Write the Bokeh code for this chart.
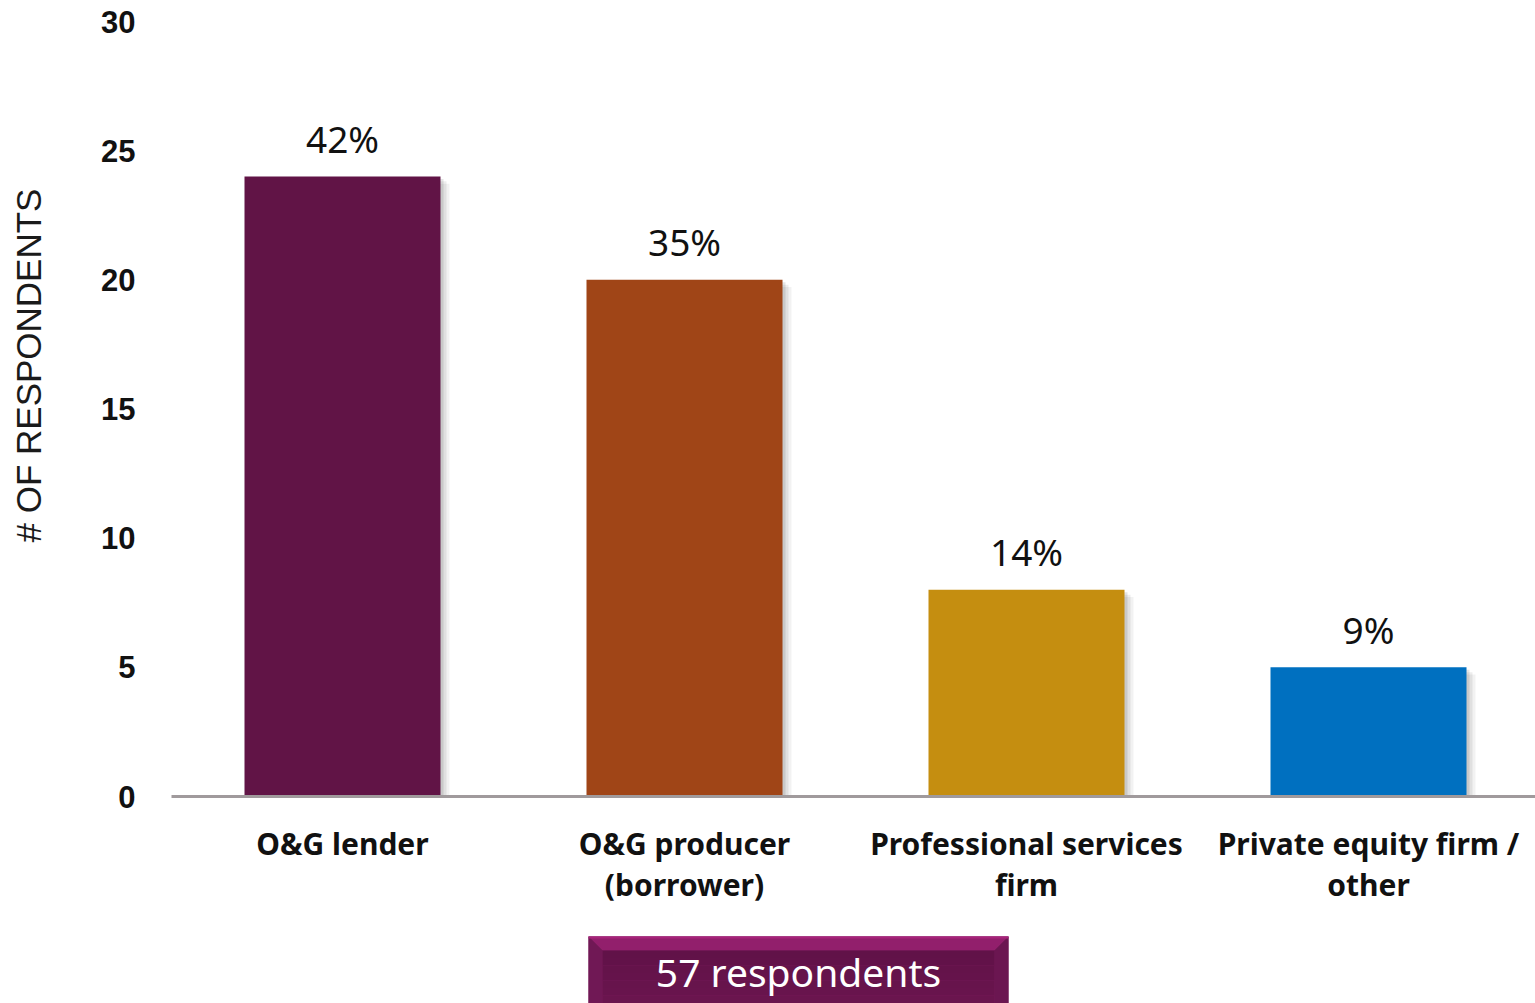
from bokeh.plotting import figure
from bokeh.models import ColumnDataSource, Range1d, FixedTicker, Title
from bokeh.layouts import column
from bokeh.core.properties import value
from bokeh.embed import file_html
from bokeh.resources import INLINE

categories = ["O&G lender", "O&G producer\n(borrower)", "Professional services\nfirm", "Private equity firm /\nother"]
counts = [24, 20, 8, 5]
pct_labels = ["42%", "35%", "14%", "9%"]
colors = ["#611446", "#A04517", "#C58E10", "#0070C0"]
y_ticks = [0, 5, 10, 15, 20, 25, 30]
y_title = "# OF RESPONDENTS"
footer = ["57 respondents"]

xs = [i + 0.5 for i in range(len(categories))]
src = ColumnDataSource(dict(x=xs, top=counts, pct=pct_labels, color=colors))

W, H1, H2 = 1535, 930, 73
PXX = 342.0           # px per category
PXY = 775.0 / 30      # px per respondent
p = figure(width=W, height=H1, output_backend="svg", toolbar_location=None,
           x_range=Range1d(0, 1364 / PXX), y_range=Range1d(0, 30),
           min_border_left=171, min_border_right=0, min_border_top=21, min_border_bottom=134)
p.outline_line_color = None
p.xgrid.grid_line_color = None
p.ygrid.grid_line_color = None

bw = 196 / PXX
# soft drop shadows
for k, a in [(9, 0.05), (6, 0.07), (3, 0.10)]:
    p.vbar(x=[x + k / PXX for x in xs], top=[c - 0.8 * k / PXY for c in counts],
           bottom=-0.5 * k / PXY, width=bw, fill_color="#000000", fill_alpha=a, line_color=None)
p.vbar(x="x", top="top", width=bw, fill_color="color", line_color=None, source=src)

p.text(x="x", y="top", text="pct", source=src, text_align="center", text_baseline="alphabetic",
       y_offset=-38, text_font=value("Noto Sans"), text_font_size="37px", text_color="#111111")

xa = p.xaxis[0]
xa.ticker = FixedTicker(ticks=xs)
xa.major_label_overrides = {x: c for x, c in zip(xs, categories)}
xa.axis_line_color = "#a09a9c"
xa.axis_line_width = 3
xa.major_tick_line_color = None
xa.minor_tick_line_color = None
xa.major_label_standoff = 20
xa.major_label_text_font = "Noto Sans"
xa.major_label_text_font_style = "bold"
xa.major_label_text_font_size = "30px"
xa.major_label_text_color = "#111111"
xa.major_label_text_line_height = 1.0

ya = p.yaxis[0]
ya.ticker = FixedTicker(ticks=y_ticks)
ya.axis_line_color = None
ya.major_tick_line_color = None
ya.minor_tick_line_color = None
ya.major_label_standoff = 30
ya.major_label_text_font = "Liberation Sans"
ya.major_label_text_font_style = "bold"
ya.major_label_text_font_size = "31px"
ya.major_label_text_color = "#111111"

# spacer between tick labels and the axis title
p.add_layout(Title(text=" ", standoff=38, text_font_size="1px"), "left")
p.add_layout(Title(text=y_title, align="left", offset=254, standoff=16, vertical_align="top",
                   text_font="Liberation Sans", text_font_style="normal",
                   text_font_size="35px", text_color="#1a1a1a"), "left")

# footer badge (its frame is aligned with the chart's frame: page x 171..1535)
p2 = figure(width=W, height=H2, output_backend="svg", toolbar_location=None,
            x_range=Range1d(171, W), y_range=Range1d(0, H2),
            min_border_left=171, min_border_right=0, min_border_top=0, min_border_bottom=0,
            x_axis_type=None, y_axis_type=None)
p2.outline_line_color = None
p2.xgrid.grid_line_color = None
p2.ygrid.grid_line_color = None

def yy(page_y):
    return 930 + H2 - page_y

L, R, T, B, bev = 588, 1008, 936, 1010, 14
p2.quad(left=L, right=R, top=yy(T), bottom=yy(B), fill_color="#7d1b5f", line_color=None)
p2.patch([L, R, R - bev, L + bev], [yy(T), yy(T), yy(T + bev), yy(T + bev)], fill_color="#921f6c", line_color=None)
p2.patch([L, L + bev, L + bev, L], [yy(T), yy(T + bev), yy(B), yy(B)], fill_color="#701855", line_color=None)
p2.patch([R, R - bev, R - bev, R], [yy(T), yy(T + bev), yy(B), yy(B)], fill_color="#6b1651", line_color=None)
steps = 8
for i in range(steps):
    y0 = T + bev + i * (B - T - bev) / steps
    y1 = T + bev + (i + 1) * (B - T - bev) / steps
    c = 0x5f + int(i * 1.5)
    p2.quad(left=L + bev, right=R - bev, top=yy(y0), bottom=yy(y1),
            fill_color="#%02x%02x%02x" % (c + 2, 0x12 + i // 2, 0x48 + i), line_color=None)
p2.line([L, R], [yy(T + 1), yy(T + 1)], line_color="#a8247b", line_width=2)
p2.text(x=[(L + R) / 2], y=[yy(971)], text=footer, text_align="center", text_baseline="middle",
        text_font=value("Noto Sans"), text_font_size="39px", text_color="white")

layout = column(p, p2, spacing=0)
open("out.html", "w").write(file_html(layout, INLINE))
